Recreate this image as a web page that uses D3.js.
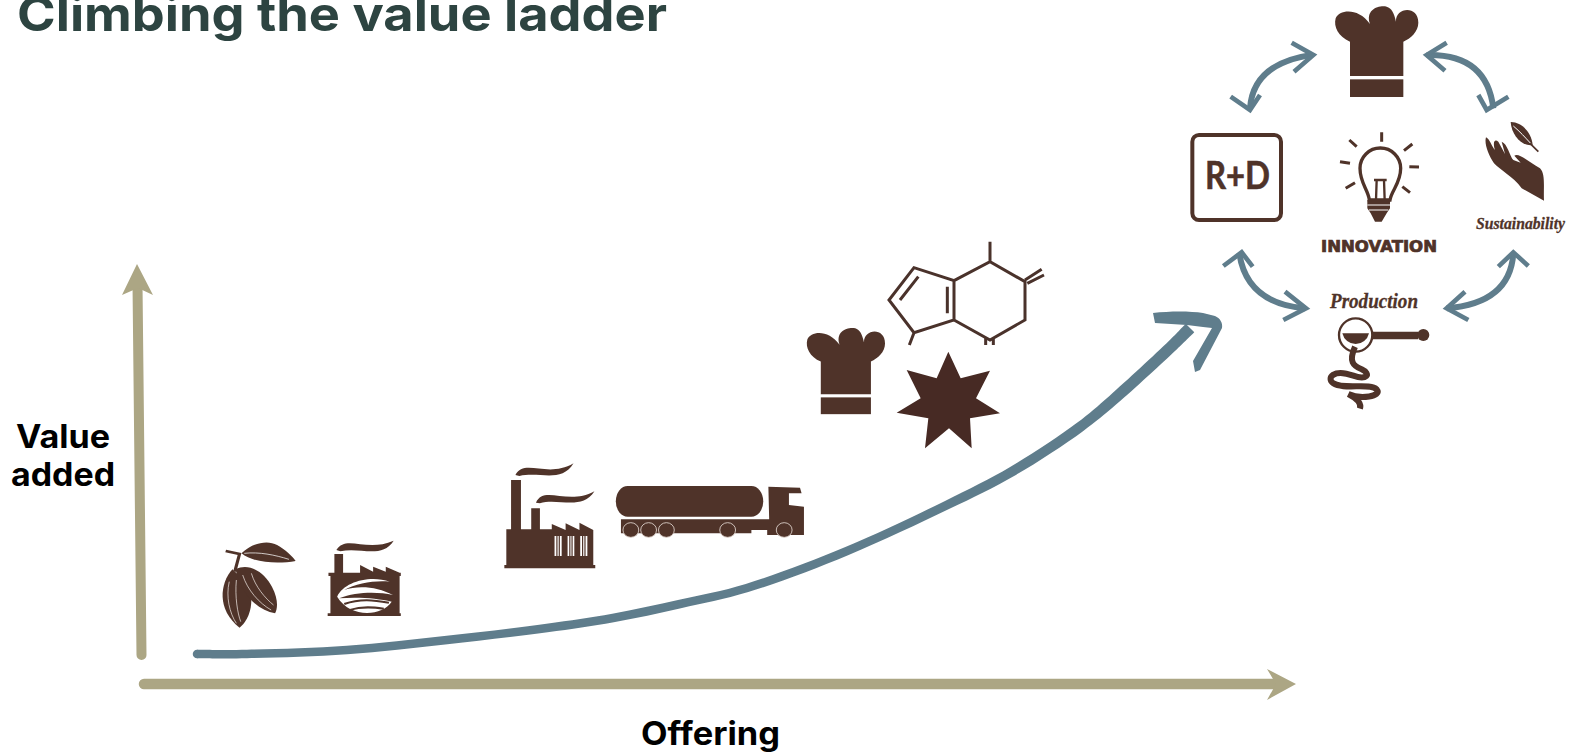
<!DOCTYPE html>
<html><head><meta charset="utf-8">
<style>html,body{margin:0;padding:0;background:#fff;overflow:hidden}svg{display:block}</style>
<script src="https://cdn.jsdelivr.net/npm/d3@7"></script>
</head><body>
<script>
// ---- data (axis units) ----
const titleText = "Climbing the value ladder";
const xLabel = "Offering";
const yLabelLines = ["Value", "added"];
const cycleLabels = ["R+D", "INNOVATION", "Sustainability", "Production"];
const xAxisOffering = [4, 1136];
const xAxisValue = [0, 0];
const yAxisOffering = [1.5, -2.5];
const yAxisValue = [29, 400];
const curveOffering = [57, 107, 207, 307, 407, 473, 540, 607, 707, 807, 873, 940, 973, 1033, 1050];
const curveValue = [30, 30, 34, 44, 56, 66, 80, 96, 133, 179, 213, 257, 284, 339, 356];

// ---- setup ----
const W = 1570, H = 754;
const BROWN = "#4f3329", BLUE = "#5f7d8c", TAN = "#aca684";
const svg = d3.select("body").append("svg").attr("width", W).attr("height", H);
const x = d3.scaleLinear().domain([0, 1156]).range([140, 1296]);
const y = d3.scaleLinear().domain([0, 420]).range([684, 264]);
const sans = "Inter, 'Open Sans', sans-serif";

function fitText(t, opts) {
  return svg.append("text").text(t).attr("x", opts.x).attr("y", opts.y)
    .attr("textLength", opts.len).attr("lengthAdjust", "spacingAndGlyphs")
    .attr("font-family", opts.font || sans).attr("font-size", opts.size)
    .attr("font-weight", opts.weight || 700).attr("font-style", opts.style || "normal")
    .attr("fill", opts.fill);
}

// ---- titles and axis labels ----
fitText(titleText, {x: 17, y: 31, len: 650, size: 48, weight: 700, fill: "#2d4441"});
fitText(yLabelLines[0], {x: 16, y: 448, len: 94, size: 32, fill: "#000"});
fitText(yLabelLines[1], {x: 11, y: 486, len: 104, size: 32, fill: "#000"});
fitText(xLabel, {x: 641, y: 745, len: 139, size: 32, fill: "#000"});

// ---- axes ----
const line = d3.line().x(d => x(d[0])).y(d => y(d[1]));
const axisStyle = s => s.attr("fill", "none").attr("stroke", TAN).attr("stroke-linecap", "round");
svg.append("path").datum(d3.zip(yAxisOffering, yAxisValue)).attr("d", line)
  .call(axisStyle).attr("stroke-width", 10);
svg.append("path").datum(d3.zip(xAxisOffering, xAxisValue)).attr("d", line)
  .call(axisStyle).attr("stroke-width", 10.5);
const headPoly = pts => pts.map(p => [x(p[0]), y(p[1])].join(",")).join(" ");
svg.append("polygon").attr("fill", TAN)
  .attr("points", headPoly([[-3, 420], [-18, 389], [-2, 396], [13, 389]]));
svg.append("polygon").attr("fill", TAN)
  .attr("points", headPoly([[1156, 0], [1127, 15], [1136, 0], [1127, -16]]));

// ---- growth curve: a ribbon that thickens towards the arrow head ----
const curvePts = d3.zip(curveOffering, curveValue).map((p, i, a) => {
  const prev = a[Math.max(i - 1, 0)], next = a[Math.min(i + 1, a.length - 1)];
  const dx = x(next[0]) - x(prev[0]), dy = y(next[1]) - y(prev[1]), len = Math.hypot(dx, dy);
  const hw = (i < 9 ? 8.5 : 8.5 + (i - 8) * 0.6) / 2;
  return {px: x(p[0]), py: y(p[1]), nx: -dy / len * hw, ny: dx / len * hw};
});
const ribbon = d3.area().curve(d3.curveCatmullRom.alpha(0.5))
  .x0(d => d.px + d.nx).y0(d => d.py + d.ny)
  .x1(d => d.px - d.nx).y1(d => d.py - d.ny);
svg.append("path").datum(curvePts).attr("d", ribbon).attr("fill", BLUE);
svg.append("circle").attr("cx", curvePts[0].px).attr("cy", curvePts[0].py).attr("r", 4.25).attr("fill", BLUE);
svg.append("path").attr("fill", BLUE)
  .attr("d", "M1153,313 C1170,311 1190,311 1203,313 L1215,316 C1220,318 1223,323 1222,328 L1200,370 L1195,372 L1193,361 L1212,328 L1203,327 L1187,325 L1155,323 Z");

// Draws in the coordinates of a crop of the picture.
const layer = (ox, oy, sx, sy) => svg.append("g")
  .attr("transform", `translate(${ox},${oy}) scale(${1 / sx},${1 / sy})`);
const fillPath = (g, d, c) => g.append("path").attr("d", d).attr("fill", c || BROWN);
const strokePath = (g, d, w, c) => g.append("path").attr("d", d).attr("fill", "none")
  .attr("stroke", c || BROWN).attr("stroke-width", w);

// ---- chef hat glyph ----
function hat(g) {
  fillPath(g, "M540,125 C505,110 490,80 497,55 C508,28 565,22 600,72 C585,30 625,15 650,20 C665,25 672,38 678,65 C675,22 745,14 745,68 C745,95 722,115 700,125 L700,228 L540,228 Z");
  g.append("rect").attr("x", 540).attr("y", 238).attr("width", 160).attr("height", 53).attr("fill", BROWN);
}
hat(layer(1170, 0, 3, 3));
hat(svg.append("g").attr("transform", "translate(806.7,327.7) scale(0.3133,0.3167) translate(-495,-18)"));

// ---- left icons (crop 200,450) ----
const z2 = layer(200, 450, 2.53, 3);
strokePath(z2, "M65,303 L100,312 L88,365", 8);
fillPath(z2, "M105,310 C130,280 170,268 195,285 C215,298 235,320 242,333 C200,342 135,340 105,310Z");
strokePath(z2, "M112,310 C150,305 190,315 225,328", 2, "#fff");
fillPath(z2, "M82,358 C50,400 42,480 100,533 C130,505 140,440 118,398 Z");
strokePath(z2, "M74,395 C65,440 75,490 92,520 M92,390 C88,440 95,490 103,515", 2, "#efe6e2");
fillPath(z2, "M90,358 C125,335 165,370 182,410 C198,445 197,475 190,490 C150,482 105,440 90,358Z");
strokePath(z2, "M108,375 C120,420 150,460 180,480 M130,370 C140,410 165,445 186,465", 2, "#efe6e2");

// small factory
fillPath(z2, "M345,300 C370,252 420,308 490,272 C460,328 405,290 355,304 Z");
fillPath(z2, "M340,312 H362 V368 H405 V345 L438,365 V350 L470,365 V350 L505,368 H508 V378 H505 V490 H508 V498 H323 V490 H330 V378 H325 V368 H340 Z");
fillPath(z2, "M347,440 C365,395 430,375 480,395 C445,390 395,400 365,420 C400,405 450,410 488,435 C450,425 395,425 352,445 C400,440 450,445 485,455 C460,500 380,505 347,440 Z", "#fff");
strokePath(z2, "M365,462 C405,445 440,450 478,458 M380,480 C410,468 440,472 465,476", 6);

// big factory
fillPath(z2, "M798,75 C820,24 880,86 945,40 C915,100 860,64 808,78 Z");
fillPath(z2, "M850,158 C870,104 930,168 998,124 C965,184 905,142 860,160 Z");
fillPath(z2, "M787,90 H812 V238 H838 V175 H860 V238 H890 V222 L925,240 V220 L960,240 V218 L995,240 V345 H1000 V355 H770 V345 H775 V238 H787 Z");
[[897, 915], [930, 947], [962, 980]].forEach(([a, b]) => {
  z2.append("rect").attr("x", a).attr("y", 258).attr("width", b - a).attr("height", 60).attr("fill", "#fff");
  strokePath(z2, `M${a + (b - a) / 3},258 V318 M${a + 2 * (b - a) / 3},258 V318`, 3);
});

// tanker
z2.append("rect").attr("x", 1052).attr("y", 108).attr("width", 373).attr("height", 92).attr("rx", 30).attr("ry", 46).attr("fill", BROWN);
fillPath(z2, "M1438,110 L1518,113 L1522,130 L1490,130 L1490,165 L1528,170 L1528,255 L1435,255 L1435,240 L1395,240 L1395,250 L1065,250 L1065,208 L1440,208 Z");
[1090, 1135, 1180, 1335, 1478].forEach(cx => {
  z2.append("ellipse").attr("cx", cx).attr("cy", 240).attr("rx", 20).attr("ry", 22)
    .attr("fill", BROWN).attr("stroke", "#d9ccc6").attr("stroke-width", 2.5);
});

// ---- molecule and star (crop 790,230) ----
const z3 = layer(790, 230, 3, 3);
strokePath(z3, "M372,113 L297,210 L372,308 L492,270 L492,152 Z M385,140 L330,210 M472,170 L472,250 M492,152 L600,95 L705,155 L705,270 L600,330 L492,270 M600,95 L600,35 M705,150 L755,118 M712,160 L762,135 M372,308 L358,345 M587,325 V345 M610,325 V345", 9, "#4a322b");
fillPath(z3, "M475,365 L512,445 L600,422 L558,505 L630,550 L540,565 L545,655 L477,595 L405,655 L415,565 L320,548 L392,505 L350,420 L440,445 Z", "#472a24");

// ---- innovation cycle (crop 1170,0) ----
const z1 = layer(1170, 0, 3, 3);
const arrows = [
  ["M240,325 Q250,190 425,165", "M365,128 L430,165 L372,215", "M182,290 L240,330 L270,285"],
  ["M770,165 Q950,160 970,325", "M830,128 L770,165 L825,212", "M925,285 L950,330 L1015,290"],
  ["M208,760 Q230,910 405,925", "M160,798 L215,757 L248,800", "M345,875 L408,925 L340,960"],
  ["M1030,760 Q1020,910 830,925", "M985,800 L1030,757 L1075,798", "M885,875 L830,925 L895,960"]
];
arrows.forEach(a => {
  strokePath(z1, a[0], 18, BLUE);
  strokePath(z1, a[1], 14, BLUE);
  strokePath(z1, a[2], 14, BLUE);
});

// R+D box
z1.append("rect").attr("x", 67).attr("y", 405).attr("width", 266).attr("height", 255).attr("rx", 20)
  .attr("fill", "none").attr("stroke", BROWN).attr("stroke-width", 12);
fitText(cycleLabels[0], {x: 1205, y: 189, len: 65, size: 38, font: "Lato, sans-serif", fill: BROWN})
  .attr("stroke", BROWN).attr("stroke-width", 0.6);

// bulb
strokePath(z1, "M598,600 C595,570 570,550 570,505 A60,60 0 1 1 692,505 C692,550 665,570 660,600 Z", 10);
strokePath(z1, "M618,600 L620,540 H642 L644,600 M612,540 H650", 7);
fillPath(z1, "M592,600 H660 V625 L650,640 L635,665 H615 L602,640 L592,625Z");
strokePath(z1, "M592,615 H660 M597,630 H655", 3, "#fff");
strokePath(z1, "M635,397 V425 M538,420 L560,440 M727,432 L702,452 M510,485 L540,490 M747,501 L718,500 M527,565 L555,548 M720,578 L697,560", 9);
fitText(cycleLabels[1], {x: 1321, y: 252, len: 116, size: 15, weight: 700, font: "'DejaVu Sans', sans-serif", fill: BROWN})
  .attr("stroke", BROWN).attr("stroke-width", 0.7);

// hand and leaf
fillPath(z1, "M1122,602 L1055,565 C1030,530 990,510 972,490 C955,465 942,430 948,412 C960,418 965,440 975,450 C968,430 972,415 985,425 L1005,462 L995,425 C1012,430 1020,470 1030,480 L1052,488 L1033,467 C1045,457 1072,482 1110,505 C1127,522 1120,560 1122,602 Z");
fillPath(z1, "M1022,366 C1052,365 1085,395 1088,435 C1060,440 1025,410 1022,366Z");
strokePath(z1, "M1030,378 C1050,395 1065,412 1082,430", 3, "#fff");
strokePath(z1, "M1080,430 L1105,455", 5);
fitText(cycleLabels[2], {x: 1476, y: 229, len: 89, size: 17, style: "italic", font: "'Liberation Serif', serif", fill: BROWN})
  .attr("stroke", BROWN).attr("stroke-width", 0.3);

// production
fitText(cycleLabels[3], {x: 1330, y: 308, len: 88, size: 21, style: "italic", font: "'Liberation Serif', serif", fill: BROWN})
  .attr("stroke", BROWN).attr("stroke-width", 0.3);
z1.append("circle").attr("cx", 557).attr("cy", 1005).attr("r", 50).attr("fill", "none").attr("stroke", BROWN).attr("stroke-width", 7);
fillPath(z1, "M517,1000 H597 A41,41 0 0 1 517,1000 Z");
fillPath(z1, "M605,995 H745 V1018 H605 Z");
z1.append("circle").attr("cx", 760).attr("cy", 1005).attr("r", 18).attr("fill", BROWN);
strokePath(z1, "M555,1040 C535,1085 550,1098 575,1108 C605,1122 590,1142 550,1127 C490,1105 468,1135 490,1150 C520,1170 600,1148 620,1168 C638,1190 570,1198 535,1182 C560,1195 575,1210 570,1226", 18);
</script>
</body></html>
